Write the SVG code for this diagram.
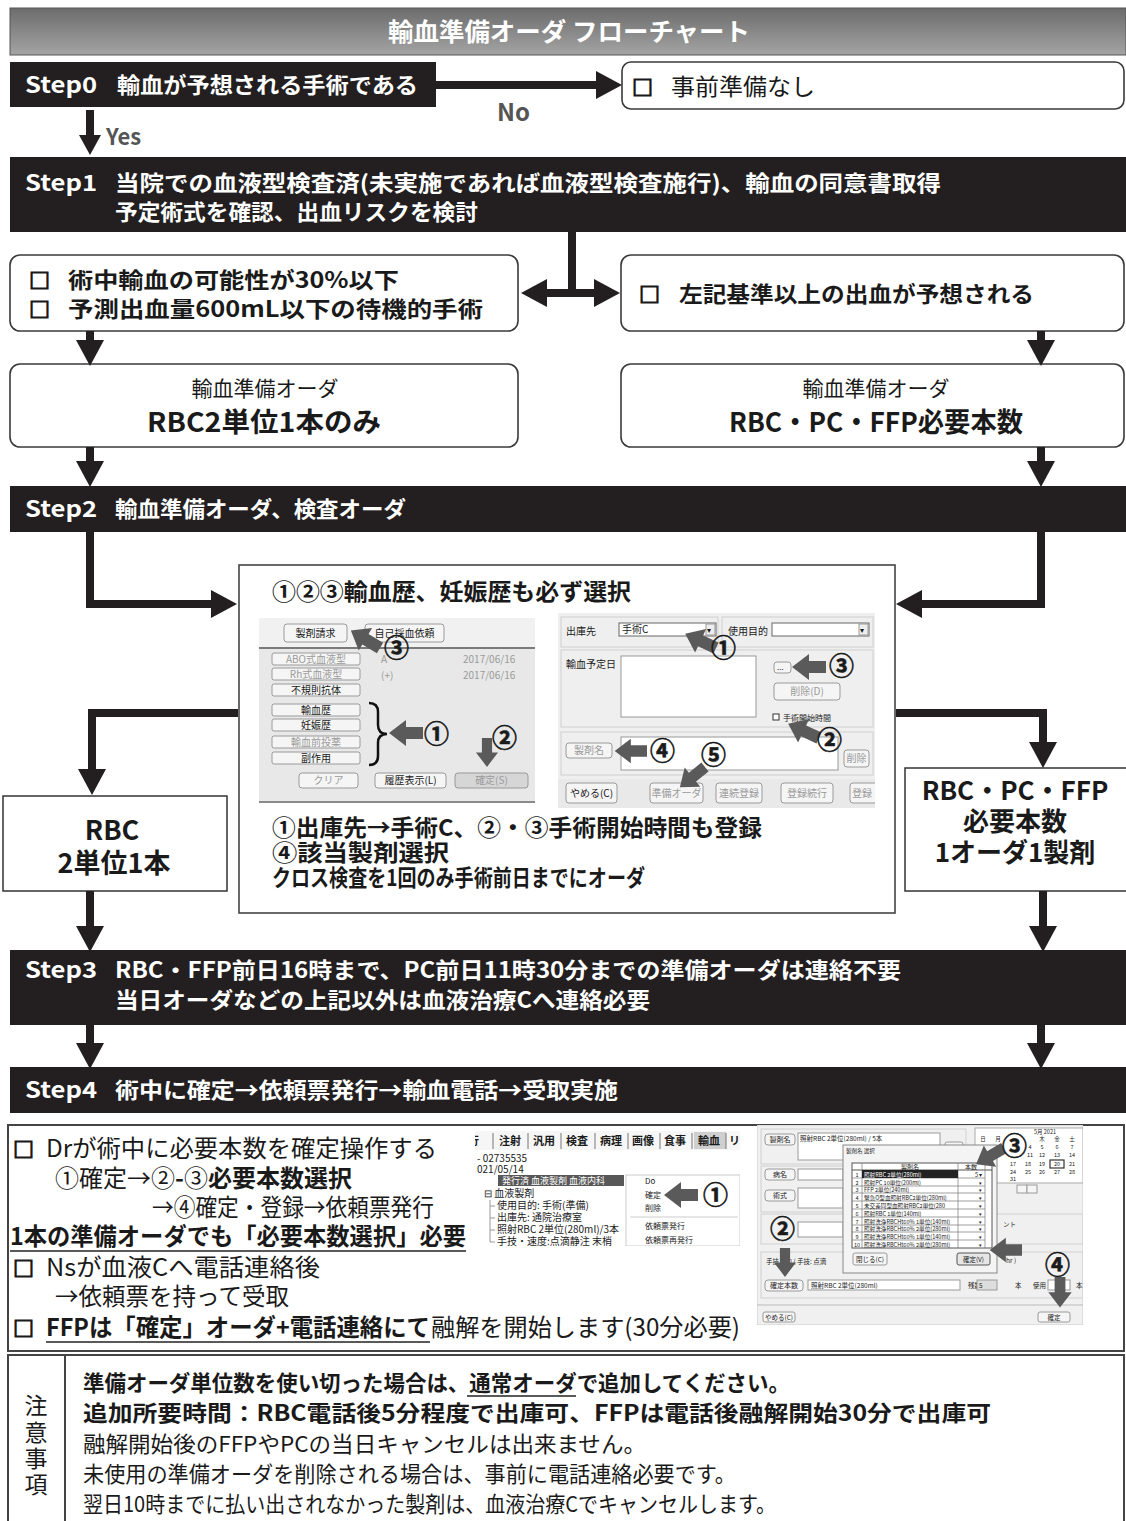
<svg xmlns="http://www.w3.org/2000/svg" width="1126" height="1521" viewBox="0 0 1126 1521">
<defs>
<linearGradient id="tg" x1="0" y1="0" x2="0" y2="1"><stop offset="0" stop-color="#6c6c6c"/><stop offset="1" stop-color="#a4a4a4"/></linearGradient>
<marker id="ah" markerUnits="userSpaceOnUse" markerWidth="26" markerHeight="28" viewBox="0 0 26 28" refX="0" refY="14" orient="auto-start-reverse"><path d="M0,0 L26,14 L0,28 Z" fill="#231f20"/></marker>
<marker id="ahs" markerUnits="userSpaceOnUse" markerWidth="20" markerHeight="22" viewBox="0 0 20 22" refX="0" refY="11" orient="auto"><path d="M0,0 L20,11 L0,22 Z" fill="#231f20"/></marker>
<path id="ga" d="M0,-6 H17 V-13 L34,0 L17,13 V6 H0 Z" fill="#5a5a5a"/>
<clipPath id="cl1"><rect x="259" y="618" width="276" height="185"/></clipPath>
<clipPath id="cl2"><rect x="558" y="613" width="317" height="195"/></clipPath>
<clipPath id="cl3"><rect x="475" y="1130" width="265" height="116"/></clipPath>
<clipPath id="cl4"><rect x="757" y="1125" width="326" height="200"/></clipPath>
</defs>
<style>
text{font-family:"Noto Sans CJK JP","Noto Sans",sans-serif;fill:#1a1a1a}
.b{font-weight:700}
text.w{fill:#fff}
.bar{fill:#231f20}
.rb{fill:#fff;stroke:#3a3a3a;stroke-width:1.6}
.c{fill:none;stroke:#231f20;stroke-width:8}
.s{font-size:10px}
text.sg{font-size:10px;fill:#9a9a9a}
.btn{fill:#f5f5f5;stroke:#9a9a9a;stroke-width:1}
text.num{font-size:25px;font-weight:700;stroke:#1a1a1a;stroke-width:0.6}
text.sq{font-weight:700;stroke:#1a1a1a;stroke-width:1.2}
.t8{font-size:8px}
.t7{font-size:6.5px}
text.lbl{fill:#555;font-weight:700}
</style>
<rect width="1126" height="1521" fill="#fff"/>

<g id="title"><rect x="10" y="8" width="1116" height="47" fill="url(#tg)" stroke="#555" stroke-width="1"/><text x="388" y="41" class="b w" font-size="25" textLength="362" lengthAdjust="spacingAndGlyphs">輸血準備オーダ フローチャート</text></g>

<g id="step0"><rect class="bar" x="10" y="62" width="426" height="45"/><text x="25" y="93" class="b w" font-size="22" textLength="72" lengthAdjust="spacingAndGlyphs">Step0</text><text x="117" y="93" class="b w" font-size="22" textLength="301" lengthAdjust="spacingAndGlyphs">輸血が予想される手術である</text></g>

<g id="no-prep"><rect class="rb" x="622" y="62" width="502" height="47" rx="9"/><text x="632" y="95" font-size="21" class="sq">□</text><text x="671" y="95" font-size="23" textLength="144" lengthAdjust="spacingAndGlyphs">事前準備なし</text></g>

<g id="step1"><rect class="bar" x="10" y="157" width="1116" height="75"/><text x="25" y="191" class="b w" font-size="22" textLength="72" lengthAdjust="spacingAndGlyphs">Step1</text><text x="115" y="191" class="b w" font-size="22" textLength="826" lengthAdjust="spacingAndGlyphs">当院での血液型検査済(未実施であれば血液型検査施行)、輸血の同意書取得</text><text x="115" y="220" class="b w" font-size="22" textLength="363" lengthAdjust="spacingAndGlyphs">予定術式を確認、出血リスクを検討</text></g>

<g id="low-risk"><rect class="rb" x="10" y="255" width="508" height="76" rx="10"/><text x="29" y="288" font-size="21" class="sq">□</text><text x="68" y="288" font-size="22" class="b" textLength="331" lengthAdjust="spacingAndGlyphs">術中輸血の可能性が30%以下</text><text x="29" y="317" font-size="21" class="sq">□</text><text x="68" y="317" font-size="22" class="b" textLength="415" lengthAdjust="spacingAndGlyphs">予測出血量600mL以下の待機的手術</text></g>

<g id="high-risk"><rect class="rb" x="621" y="255" width="503" height="76" rx="10"/><text x="639" y="302" font-size="21" class="sq">□</text><text x="679" y="302" font-size="22" class="b" textLength="355" lengthAdjust="spacingAndGlyphs">左記基準以上の出血が予想される</text></g>

<g id="order-rbc"><rect class="rb" x="10" y="364" width="508" height="83" rx="10"/><text x="265" y="396" font-size="21" text-anchor="middle">輸血準備オーダ</text><text x="147" y="432" font-size="27" class="b" textLength="234" lengthAdjust="spacingAndGlyphs">RBC2単位1本のみ</text></g>

<g id="order-all"><rect class="rb" x="621" y="364" width="503" height="83" rx="10"/><text x="876" y="396" font-size="21" text-anchor="middle">輸血準備オーダ</text><text x="729" y="432" font-size="27" class="b" textLength="294" lengthAdjust="spacingAndGlyphs">RBC・PC・FFP必要本数</text></g>

<g id="step2"><rect class="bar" x="10" y="486" width="1116" height="46"/><text x="25" y="517" class="b w" font-size="22" textLength="72" lengthAdjust="spacingAndGlyphs">Step2</text><text x="115" y="517" class="b w" font-size="22" textLength="291" lengthAdjust="spacingAndGlyphs">輸血準備オーダ、検査オーダ</text></g>

<g id="instructions">
<rect x="239" y="565" width="656" height="348" fill="#fff" stroke="#444" stroke-width="1.6"/>
<text x="272" y="600" font-size="23" class="b" textLength="359" lengthAdjust="spacingAndGlyphs">①②③輸血歴、妊娠歴も必ず選択</text>
<g id="ss-left">
<g clip-path="url(#cl1)">
<rect x="259" y="618" width="276" height="185" fill="#e8e8e8"/>
<rect x="259" y="618" width="276" height="29" fill="#f1f1f1"/>
<line x1="259" y1="648" x2="535" y2="648" stroke="#7a7a7a" stroke-width="2"/>
<line x1="259" y1="802" x2="535" y2="802" stroke="#8a8a8a" stroke-width="2"/>
<rect class="btn" x="284" y="624" width="63" height="18" rx="3"/><text x="315.5" y="637" class="s" text-anchor="middle">製剤請求</text>
<rect class="btn" x="365" y="624" width="79" height="18" rx="3"/><text x="404.5" y="637" class="s" text-anchor="middle">自己採血依頼</text>
<rect class="btn" x="272" y="653" width="88" height="12" rx="2"/><text x="316" y="663" class="sg" text-anchor="middle">ABO式血液型</text>
<rect class="btn" x="272" y="668" width="88" height="12" rx="2"/><text x="316" y="678" class="sg" text-anchor="middle">Rh式血液型</text>
<rect class="btn" x="272" y="684" width="88" height="12" rx="2"/><text x="316" y="694" class="s" text-anchor="middle">不規則抗体</text>
<rect class="btn" x="272" y="704" width="88" height="12" rx="2"/><text x="316" y="714" class="s" text-anchor="middle">輸血歴</text>
<rect class="btn" x="272" y="719" width="88" height="12" rx="2"/><text x="316" y="729" class="s" text-anchor="middle">妊娠歴</text>
<rect class="btn" x="272" y="736" width="88" height="12" rx="2"/><text x="316" y="746" class="sg" text-anchor="middle">輸血前投薬</text>
<rect class="btn" x="272" y="752" width="88" height="12" rx="2"/><text x="316" y="762" class="s" text-anchor="middle">副作用</text>
<text x="381" y="663" class="sg">A</text><text x="463" y="663" class="sg">2017/06/16</text>
<text x="381" y="679" class="sg">(+)</text><text x="463" y="679" class="sg">2017/06/16</text>
<path d="M369,703 Q378,703 378,712 L378,725 Q378,734 387,734 Q378,734 378,743 L378,756 Q378,765 369,765" fill="none" stroke="#111" stroke-width="2.5"/>
<rect class="btn" x="299" y="773" width="59" height="15" rx="3"/><text x="328.5" y="784" class="sg" text-anchor="middle">クリア</text>
<rect class="btn" x="375" y="773" width="71" height="15" rx="3"/><text x="410.5" y="784" class="s" text-anchor="middle">履歴表示(L)</text>
<rect x="455" y="773" width="73" height="15" rx="3" fill="#d6d6d6" stroke="#999"/><text x="491.5" y="784" class="sg" text-anchor="middle">確定(S)</text>
</g>
<use href="#ga" transform="translate(380,648) rotate(211)"/>
<text x="384" y="657" class="num">③</text>
<use href="#ga" transform="translate(423,733) rotate(180)"/>
<text x="424" y="743" class="num">①</text>
<use href="#ga" transform="translate(487,738) rotate(90) scale(0.85)"/>
<text x="492" y="747" class="num">②</text>
</g>
<g id="ss-right">
<g clip-path="url(#cl2)">
<rect x="558" y="613" width="317" height="195" fill="#efefef"/>
<rect x="561" y="617" width="157" height="30" fill="none" stroke="#cfcfcf"/>
<rect x="722" y="617" width="151" height="30" fill="none" stroke="#cfcfcf"/>
<rect x="561" y="650" width="312" height="77" fill="none" stroke="#cfcfcf"/>
<rect x="561" y="732" width="312" height="43" fill="none" stroke="#cfcfcf"/>
<text x="566" y="635" class="s">出庫先</text>
<rect x="619" y="623" width="97" height="13" fill="#fff" stroke="#666"/><text x="622" y="633" class="s">手術C</text><rect x="706" y="624" width="9" height="11" fill="#eee" stroke="#999"/><text x="707" y="633" class="t8">▾</text>
<text x="728" y="635" class="s">使用目的</text>
<rect x="772" y="623" width="97" height="13" fill="#fff" stroke="#666"/><rect x="859" y="624" width="9" height="11" fill="#eee" stroke="#999"/><text x="860" y="633" class="t8">▾</text>
<text x="566" y="668" class="s">輸血予定日</text>
<rect x="621" y="656" width="135" height="61" fill="#fff" stroke="#999"/>
<rect class="btn" x="774" y="662" width="17" height="11" rx="3"/><text x="777" y="670" class="t8">...</text>
<rect class="btn" x="774" y="683" width="66" height="17" rx="3"/><text x="807" y="695" class="sg" text-anchor="middle">削除(D)</text>
<rect x="773" y="714" width="6" height="6" fill="#fff" stroke="#333"/><text x="783" y="721" class="t8">手術開始時間</text>
<rect class="btn" x="566" y="743" width="46" height="15" rx="3"/><text x="589" y="754" class="sg" text-anchor="middle">製剤名</text>
<rect x="621" y="737" width="217" height="33" fill="#fff" stroke="#999"/>
<rect class="btn" x="844" y="750" width="25" height="17" rx="3"/><text x="856.5" y="762" class="sg" text-anchor="middle">削除</text>
<rect x="558" y="779" width="317" height="29" fill="#e9e9e9"/>
<rect class="btn" x="566" y="783" width="51" height="20" rx="3"/><text x="591.5" y="797" class="s" text-anchor="middle">やめる(C)</text>
<rect class="btn" x="650" y="783" width="53" height="20" rx="3"/><text x="676.5" y="797" class="sg" text-anchor="middle">準備オーダ</text>
<rect class="btn" x="716" y="783" width="46" height="20" rx="3"/><text x="739" y="797" class="sg" text-anchor="middle">連続登録</text>
<rect class="btn" x="781" y="783" width="52" height="20" rx="3"/><text x="807" y="797" class="sg" text-anchor="middle">登録続行</text>
<rect class="btn" x="850" y="783" width="40" height="20" rx="3"/><text x="852" y="797" class="sg">登録</text>
</g>
<use href="#ga" transform="translate(716,648) rotate(205)"/>
<text x="711" y="657" class="num">①</text>
<use href="#ga" transform="translate(826,667) rotate(180)"/>
<text x="829" y="675" class="num">③</text>
<use href="#ga" transform="translate(819,738) rotate(205)"/>
<text x="817" y="749" class="num">②</text>
<use href="#ga" transform="translate(647,751) rotate(180) scale(0.95)"/>
<text x="650" y="760" class="num">④</text>
<use href="#ga" transform="translate(705,767) rotate(141) scale(0.95)"/>
<text x="701" y="764" class="num">⑤</text>
</g>
<text x="272" y="836" font-size="23" class="b" textLength="490" lengthAdjust="spacingAndGlyphs">①出庫先→手術C、②・③手術開始時間も登録</text>
<text x="272" y="861" font-size="23" class="b" textLength="177" lengthAdjust="spacingAndGlyphs">④該当製剤選択</text>
<text x="272" y="886" font-size="23" class="b" textLength="373" lengthAdjust="spacingAndGlyphs">クロス検査を1回のみ手術前日までにオーダ</text>
</g>

<g id="rbc-unit"><rect x="3" y="796" width="224" height="95" fill="#fff" stroke="#333" stroke-width="1.5"/><text x="112" y="840" font-size="27" class="b" text-anchor="middle">RBC</text><text x="114" y="873" font-size="27" class="b" text-anchor="middle">2単位1本</text></g>

<g id="rbc-pc-ffp"><rect x="905" y="768" width="225" height="123" fill="#fff" stroke="#333" stroke-width="1.5"/><text x="1015" y="800" font-size="26" class="b" text-anchor="middle">RBC・PC・FFP</text><text x="1015" y="831" font-size="26" class="b" text-anchor="middle">必要本数</text><text x="1015" y="862" font-size="26" class="b" text-anchor="middle">1オーダ1製剤</text></g>

<g id="step3"><rect class="bar" x="10" y="950" width="1116" height="75"/><text x="25" y="978" class="b w" font-size="22" textLength="72" lengthAdjust="spacingAndGlyphs">Step3</text><text x="115" y="978" class="b w" font-size="22" textLength="786" lengthAdjust="spacingAndGlyphs">RBC・FFP前日16時まで、PC前日11時30分までの準備オーダは連絡不要</text><text x="115" y="1008" class="b w" font-size="22" textLength="535" lengthAdjust="spacingAndGlyphs">当日オーダなどの上記以外は血液治療Cへ連絡必要</text></g>

<g id="step4"><rect class="bar" x="10" y="1067" width="1116" height="46"/><text x="25" y="1098" class="b w" font-size="22" textLength="72" lengthAdjust="spacingAndGlyphs">Step4</text><text x="115" y="1098" class="b w" font-size="22" textLength="503" lengthAdjust="spacingAndGlyphs">術中に確定→依頼票発行→輸血電話→受取実施</text></g>

<g id="intraop">
<rect x="8" y="1125" width="1116" height="226" fill="none" stroke="#444" stroke-width="2"/>
<text x="13" y="1157" font-size="21" class="sq">□</text><text x="46" y="1157" font-size="24" textLength="391" lengthAdjust="spacingAndGlyphs">Drが術中に必要本数を確定操作する</text>
<text x="55" y="1187" font-size="24">①確定→②<tspan class="b">-</tspan>③<tspan class="b">必要本数選択</tspan></text>
<text x="152" y="1216" font-size="24" textLength="282" lengthAdjust="spacingAndGlyphs">→④確定・登録→依頼票発行</text>
<text x="10" y="1245" font-size="24" class="b" textLength="456" lengthAdjust="spacingAndGlyphs">1本の準備オーダでも「必要本数選択」必要</text>
<line x1="10" y1="1251" x2="466" y2="1251" stroke="#222" stroke-width="1.5"/>
<text x="13" y="1276" font-size="21" class="sq">□</text><text x="46" y="1276" font-size="24" textLength="274" lengthAdjust="spacingAndGlyphs">Nsが血液Cへ電話連絡後</text>
<text x="55" y="1305" font-size="24" textLength="234" lengthAdjust="spacingAndGlyphs">→依頼票を持って受取</text>
<text x="13" y="1336" font-size="21" class="sq">□</text><text x="46" y="1336" font-size="24" class="b" textLength="384" lengthAdjust="spacingAndGlyphs">FFPは「確定」オーダ+電話連絡にて</text><text x="431" y="1336" font-size="24" textLength="309" lengthAdjust="spacingAndGlyphs">融解を開始します(30分必要)</text>
<line x1="46" y1="1342" x2="430" y2="1342" stroke="#222" stroke-width="1.5"/>

<g id="ss-order" clip-path="url(#cl3)">
<rect x="475" y="1130" width="265" height="116" fill="#fff"/>
<rect x="475" y="1131" width="265" height="19" fill="#f6f6f6"/>
<rect x="694" y="1132" width="32" height="17" fill="#cfcfcf"/>
<g stroke="#777" stroke-width="1"><line x1="493" y1="1133" x2="493" y2="1149"/><line x1="528" y1="1133" x2="528" y2="1149"/><line x1="561" y1="1133" x2="561" y2="1149"/><line x1="595" y1="1133" x2="595" y2="1149"/><line x1="628" y1="1133" x2="628" y2="1149"/><line x1="660" y1="1133" x2="660" y2="1149"/><line x1="692" y1="1133" x2="692" y2="1149"/><line x1="726" y1="1133" x2="726" y2="1149"/></g>
<g font-size="11" font-weight="700"><text x="468" y="1145">行</text><text x="499" y="1145">注射</text><text x="533" y="1145">汎用</text><text x="566" y="1145">検査</text><text x="600" y="1145">病理</text><text x="632" y="1145">画像</text><text x="664" y="1145">食事</text><text x="698" y="1145">輸血</text><text x="729" y="1145">リ</text></g>
<text x="477" y="1162" class="s">- 02735535</text>
<text x="477" y="1173" class="s">021/05/14</text>
<rect x="498" y="1175" width="126" height="11" fill="#585858"/><text x="502" y="1184" class="w" font-size="9">発行済  血液製剤  血液内科</text>
<rect x="722" y="1175" width="18" height="11" fill="#585858"/><text x="724" y="1184" class="w" font-size="8">09:0</text>
<text x="484" y="1197" class="s">⊟ 血液製剤</text>
<path d="M490,1200 V1242 M490,1206 H495 M490,1218 H495 M490,1230 H495 M490,1242 H495" stroke="#999" fill="none"/>
<text x="497" y="1209" class="s">使用目的:  手術(準備)</text>
<text x="497" y="1221" class="s">出庫先:  通院治療室</text>
<text x="497" y="1233" class="s">照射RBC 2単位(280ml)/3本</text>
<text x="497" y="1245" class="s">手技・速度:点滴静注  末梢</text>
<rect x="626" y="1175" width="114" height="71" fill="#fff" stroke="#ccc"/>
<text x="645" y="1184" class="t8">Do</text>
<text x="645" y="1198" class="t8">確定</text>
<text x="645" y="1211" class="t8">削除</text>
<line x1="630" y1="1217" x2="738" y2="1217" stroke="#ccc"/>
<text x="645" y="1229" font-size="8" fill="#888">依頼票発行</text>
<text x="645" y="1243" font-size="8" fill="#888">依頼票再発行</text>
</g>
<use href="#ga" transform="translate(698,1195) rotate(180)"/>
<text x="703" y="1204" class="num">①</text>

<g id="ss-confirm">
<g clip-path="url(#cl4)">
<rect x="757" y="1125" width="326" height="200" fill="#f0f0f0" stroke="#ccc"/>
<rect x="761" y="1129" width="205" height="35" fill="none" stroke="#d0d0d0"/>
<rect x="761" y="1166" width="205" height="46" fill="none" stroke="#d0d0d0"/>
<rect x="761" y="1214" width="322" height="30" fill="none" stroke="#d0d0d0"/>
<rect x="761" y="1252" width="322" height="46" fill="none" stroke="#d0d0d0"/>
<rect class="btn" x="765" y="1134" width="30" height="11" rx="3"/><text x="780" y="1142" font-size="7" fill="#888" text-anchor="middle">製剤名</text>
<rect x="798" y="1133" width="142" height="27" fill="#fff" stroke="#999"/><text x="800" y="1141" class="t7">照射RBC 2単位(280ml) / 5本</text>
<rect class="btn" x="945" y="1142" width="18" height="10" rx="2"/>
<rect class="btn" x="765" y="1169" width="30" height="11" rx="3"/><text x="780" y="1177" font-size="7" text-anchor="middle">病名</text>
<rect x="798" y="1169" width="45" height="11" fill="#fff" stroke="#999"/>
<rect class="btn" x="765" y="1190" width="30" height="11" rx="3"/><text x="780" y="1198" font-size="7" text-anchor="middle">術式</text>
<rect x="798" y="1188" width="45" height="20" fill="#fff" stroke="#999"/>
<rect x="798" y="1222" width="45" height="15" fill="#fff" stroke="#999"/>
<text x="766" y="1264" class="t7">手技入力  (  手技:  点滴</text>
<text x="1003" y="1227" class="t7">ント</text>
<text x="1006" y="1263" class="t7">hr  )</text>
<rect class="btn" x="765" y="1280" width="38" height="11" rx="3"/><text x="784" y="1288" font-size="7" fill="#999" text-anchor="middle">確定本数</text>
<rect x="808" y="1280" width="152" height="10" fill="#fff" stroke="#999"/><text x="811" y="1288" class="t7">照射RBC 2単位(280ml)</text>
<text x="968" y="1288" class="t7">残数</text><rect x="977" y="1280" width="20" height="10" fill="#ddd" stroke="#999"/><text x="979" y="1288" class="t7">5</text><text x="1015" y="1288" class="t7">本</text>
<text x="1033" y="1288" class="t7">使用</text><rect x="1048" y="1280" width="22" height="10" fill="#fff" stroke="#999"/><text x="1076" y="1288" class="t7">本</text>
<line x1="757" y1="1305" x2="1083" y2="1305" stroke="#bbb"/>
<rect class="btn" x="763" y="1312" width="32" height="10" rx="2"/><text x="779" y="1320" class="t7" text-anchor="middle">やめる(C)</text>
<rect class="btn" x="1038" y="1312" width="32" height="10" rx="2"/><text x="1054" y="1320" class="t7" text-anchor="middle">確定</text>
<rect x="975" y="1128" width="108" height="55" fill="#fff" stroke="#aaa"/>
<text x="1045" y="1134" font-size="5.5" text-anchor="middle">5月 2021</text>
<g font-size="5.5" text-anchor="middle"><text x="983" y="1141">日</text><text x="998" y="1141">月</text><text x="1042" y="1141">木</text><text x="1057" y="1141">金</text><text x="1072" y="1141">土</text>
<text x="1030" y="1149">4</text><text x="1042" y="1149">5</text><text x="1057" y="1149">6</text><text x="1072" y="1149">7</text>
<text x="1030" y="1157">11</text><text x="1042" y="1157">12</text><text x="1057" y="1157">13</text><text x="1072" y="1157">14</text>
<text x="1013" y="1166">17</text><text x="1028" y="1166">18</text><text x="1042" y="1166">19</text><text x="1057" y="1166">20</text><text x="1072" y="1166">21</text>
<text x="1013" y="1174">24</text><text x="1028" y="1174">25</text><text x="1042" y="1174">26</text><text x="1057" y="1174">27</text><text x="1072" y="1174">28</text>
<text x="1013" y="1181">31</text></g>
<rect x="1050" y="1160" width="14" height="8" fill="none" stroke="#333" stroke-width="1.2"/>
<rect x="1017" y="1185" width="10" height="8" class="btn"/><rect x="1027" y="1185" width="10" height="8" class="btn"/>
<rect x="843" y="1145" width="154" height="128" fill="#f4f4f4" stroke="#888"/>
<text x="846" y="1153" font-size="5.5">製剤名 選択</text>
<rect x="852" y="1163" width="140" height="85" fill="#fff" stroke="#555"/>
<line x1="852" y1="1170" x2="992" y2="1170" stroke="#555"/>
<g stroke="#777" stroke-width="0.7"><line x1="862" y1="1163" x2="862" y2="1248"/><line x1="958" y1="1163" x2="958" y2="1248"/><line x1="985" y1="1163" x2="985" y2="1248"/>
<line x1="852" y1="1178" x2="985" y2="1178"/><line x1="852" y1="1186" x2="985" y2="1186"/><line x1="852" y1="1193" x2="985" y2="1193"/><line x1="852" y1="1201" x2="985" y2="1201"/><line x1="852" y1="1209" x2="985" y2="1209"/><line x1="852" y1="1217" x2="985" y2="1217"/><line x1="852" y1="1225" x2="985" y2="1225"/><line x1="852" y1="1232" x2="985" y2="1232"/><line x1="852" y1="1240" x2="985" y2="1240"/></g>
<text x="910" y="1169" font-size="6" text-anchor="middle">製剤名</text><text x="971" y="1169" font-size="6" text-anchor="middle">本数</text>
<rect x="862" y="1170" width="96" height="8" fill="#222"/>
<g font-size="5.6"><text x="857" y="1177" text-anchor="middle">1</text><text x="864" y="1177" class="w">照射RBC 2単位(280ml)</text><text x="975" y="1177">5 ▾</text>
<text x="857" y="1185" text-anchor="middle">2</text><text x="864" y="1185">照射PC 10単位(200ml)</text>
<text x="857" y="1192" text-anchor="middle">3</text><text x="864" y="1192">FFP 2単位(240ml)</text>
<text x="857" y="1200" text-anchor="middle">4</text><text x="864" y="1200">緊急O型血照射RBC2単位(280ml)</text>
<text x="857" y="1208" text-anchor="middle">5</text><text x="864" y="1208">未交差同型血照射RBC2単位(280</text>
<text x="857" y="1216" text-anchor="middle">6</text><text x="864" y="1216">照射RBC 1単位(140ml)</text>
<text x="857" y="1224" text-anchor="middle">7</text><text x="864" y="1224">照射洗浄RBCHt60% 1単位(140ml)</text>
<text x="857" y="1231" text-anchor="middle">8</text><text x="864" y="1231">照射洗浄RBCHt60% 2単位(280ml)</text>
<text x="857" y="1239" text-anchor="middle">9</text><text x="864" y="1239">照射洗浄RBCHt60% 1単位(140ml)</text>
<text x="857" y="1247" text-anchor="middle">10</text><text x="864" y="1247">照射洗浄RBCHt60% 2単位(280ml)</text></g>
<g font-size="5" fill="#333"><text x="979" y="1185">▾</text><text x="979" y="1192">▾</text><text x="979" y="1200">▾</text><text x="979" y="1208">▾</text><text x="979" y="1216">▾</text><text x="979" y="1224">▾</text><text x="979" y="1231">▾</text><text x="979" y="1239">▾</text><text x="979" y="1247">▾</text></g>
<rect class="btn" x="853" y="1253" width="34" height="12" rx="2"/><text x="870" y="1262" class="t7" text-anchor="middle">閉じる(C)</text>
<rect x="957" y="1253" width="33" height="12" rx="2" fill="#e6e6e6" stroke="#555"/><text x="973.5" y="1262" class="t7" text-anchor="middle">確定(V)</text>
</g>
<use href="#ga" transform="translate(785,1248) rotate(90) scale(0.85)"/>
<circle cx="783" cy="1229" r="11" fill="#f0f0f0"/>
<text x="770" y="1238" class="num">②</text>
<use href="#ga" transform="translate(1004,1148) rotate(150) scale(0.95)"/>
<circle cx="1014" cy="1146" r="11" fill="#fff"/>
<text x="1002" y="1155" class="num">③</text>
<use href="#ga" transform="translate(1022,1250) rotate(180) scale(0.95)"/>
<use href="#ga" transform="translate(1060,1277) rotate(90) scale(0.9)"/>
<text x="1045" y="1274" class="num">④</text>
</g>
</g>

<g id="notes">
<rect x="8" y="1355" width="1116" height="170" fill="none" stroke="#444" stroke-width="2"/>
<line x1="65" y1="1355" x2="65" y2="1521" stroke="#444" stroke-width="2"/>
<g font-size="23" text-anchor="middle"><text x="36" y="1414">注</text><text x="36" y="1441">意</text><text x="36" y="1467">事</text><text x="36" y="1493">項</text></g>
<text x="83" y="1391" font-size="22" class="b" textLength="707" lengthAdjust="spacingAndGlyphs">準備オーダ単位数を使い切った場合は、通常オーダで追加してください。</text>
<line x1="467" y1="1396" x2="576" y2="1396" stroke="#222" stroke-width="1.5"/>
<text x="83" y="1421" font-size="22" class="b" textLength="908" lengthAdjust="spacingAndGlyphs">追加所要時間：RBC電話後5分程度で出庫可、FFPは電話後融解開始30分で出庫可</text>
<text x="83" y="1452" font-size="22" textLength="563" lengthAdjust="spacingAndGlyphs">融解開始後のFFPやPCの当日キャンセルは出来ません。</text>
<text x="83" y="1482" font-size="22" textLength="653" lengthAdjust="spacingAndGlyphs">未使用の準備オーダを削除される場合は、事前に電話連絡必要です。</text>
<text x="83" y="1512" font-size="22" textLength="693" lengthAdjust="spacingAndGlyphs">翌日10時までに払い出されなかった製剤は、血液治療Cでキャンセルします。</text>
</g>

<g id="connectors">
<line class="c" x1="436" y1="85" x2="596" y2="85" stroke-width="9" marker-end="url(#ah)"/>
<text x="497" y="121" font-size="24" class="lbl">No</text>
<line class="c" x1="90" y1="110" x2="90" y2="135" stroke-width="6" marker-end="url(#ahs)"/>
<text x="106" y="145" font-size="22" class="lbl">Yes</text>
<line class="c" x1="572" y1="232" x2="572" y2="297"/>
<line class="c" x1="547" y1="293" x2="594" y2="293" marker-start="url(#ah)" marker-end="url(#ah)"/>
<line class="c" x1="90" y1="331" x2="90" y2="340" marker-end="url(#ah)"/>
<line class="c" x1="1041" y1="331" x2="1041" y2="340" marker-end="url(#ah)"/>
<line class="c" x1="90" y1="447" x2="90" y2="461" marker-end="url(#ah)"/>
<line class="c" x1="1041" y1="447" x2="1041" y2="461" marker-end="url(#ah)"/>
<polyline class="c" points="90,532 90,604 211,604" marker-end="url(#ah)"/>
<polyline class="c" points="1041,532 1041,604 922,604" marker-end="url(#ah)"/>
<polyline class="c" points="238,713 92,713 92,769" marker-end="url(#ah)"/>
<polyline class="c" points="896,713 1043,713 1043,742" marker-end="url(#ah)"/>
<line class="c" x1="90" y1="891" x2="90" y2="926" marker-end="url(#ah)"/>
<line class="c" x1="1043" y1="891" x2="1043" y2="926" marker-end="url(#ah)"/>
<line class="c" x1="90" y1="1025" x2="90" y2="1043" marker-end="url(#ah)"/>
<line class="c" x1="1041" y1="1025" x2="1041" y2="1043" marker-end="url(#ah)"/>
</g>
</svg>
